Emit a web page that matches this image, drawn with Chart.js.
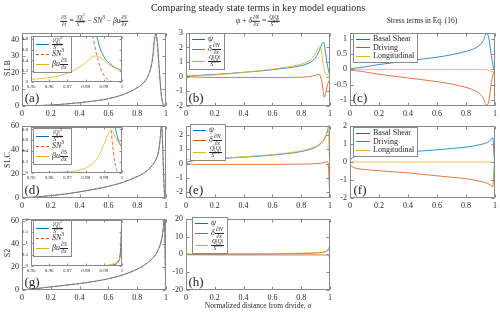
<!DOCTYPE html>
<html>
<head>
<meta charset="utf-8">
<script src="https://cdn.jsdelivr.net/npm/chart.js@4/dist/chart.umd.min.js"></script>
<style>
  body { margin: 0; background: #fff; }
  #fig { position: relative; width: 500px; height: 314px; overflow: hidden;
         font-family: "Liberation Serif", serif; color: #262626; }
  #fig canvas { position: absolute; }
  .txt { position: absolute; white-space: nowrap; line-height: 1; transform: translate(-50%, -50%); filter: grayscale(1); }
  .rot { transform: translate(-50%, -50%) rotate(-90deg); }
  .frac { display: inline-block; vertical-align: middle; text-align: center; font-size: 0.72em; line-height: 1.05; }
  .frac > span { display: block; padding: 0 1px; }
  .frac > span + span { border-top: 0.6px solid currentColor; }
  sup { font-size: 0.7em; vertical-align: super; line-height: 0; }
  .legend { position: absolute; background: #fff; border: 1px solid #8a8a8a; padding: 1px 3px 1px 2px;
            font-size: 8px; line-height: 1; color: #262626; }
  .legend > div { display: flex; align-items: center; min-height: 8px; }
  .legend .ln { display: inline-block; flex: none; width: 13px; height: 0; margin-right: 3px; }
  .legend .t { filter: grayscale(1); }
  .legend .frac { font-size: 0.74em; line-height: 0.95; }
  .legend.wide > div { min-height: 8.5px; }
  .legend.wide .ln { width: 14px; }
</style>
</head>
<body>
<div id="fig"></div>
<script>
"use strict";

const BLUE = "#0072BD", ORANGE = "#D95319", YELLOW = "#EDB120";

// ---- (a) S1.B channel terms ----
const aX   = [0, 0.1, 0.2, 0.3, 0.4, 0.5, 0.6, 0.7, 0.8, 0.85, 0.88, 0.9, 0.91, 0.92, 0.93, 0.94, 0.95, 0.96, 0.97, 0.98, 0.99, 1];
const aQ   = [0, 0.2, 0.6, 1.2, 2.0, 3.0, 4.4, 6.8, 11, 14.5, 19, 25, 31, 40, 43.5, 38, 26, 14, 5, 1.2, 0.46, 0.21];
const aSN  = [0, 0.2, 0.6, 1.2, 2.0, 3.0, 4.4, 6.8, 11, 14.5, 19, 25, 31, 40, 43.5, 37.5, 25.5, 13.5, 4.6, 0.9, 0.14, 0];
const aBu  = [0, 0, 0, 0, 0, 0.01, 0.01, 0.01, 0.02, 0.02, 0.02, 0.03, 0.03, 0.03, 0.04, 0.04, 0.05, 0.08, 0.16, 0.36, 0.42, 0.21];
// (a) inset
const aiX  = [0.95, 0.955, 0.96, 0.965, 0.97, 0.975, 0.98, 0.982, 0.984, 0.986, 0.988, 0.99, 0.992, 0.994, 0.996, 0.998, 1];
const aiQ  = [26, 20, 14, 9, 5, 2.8, 1.6, 1.3, 1.05, 0.86, 0.62, 0.47, 0.38, 0.32, 0.27, 0.24, 0.21];
const aiSN = [25.5, 19, 13.5, 8.5, 4.6, 2.4, 1.25, 1.0, 0.82, 0.52, 0.28, 0.13, 0.05, 0.015, 0.004, 0, 0];
const aiBu = [0.05, 0.06, 0.08, 0.11, 0.16, 0.24, 0.36, 0.42, 0.47, 0.48, 0.45, 0.4, 0.34, 0.3, 0.26, 0.23, 0.2];

// ---- (d) S1.C channel terms ----
const dX   = [0, 0.1, 0.2, 0.3, 0.4, 0.5, 0.6, 0.7, 0.8, 0.85, 0.9, 0.93, 0.95, 0.96, 0.965, 0.97, 0.975, 0.98, 0.985, 0.99, 0.995, 1];
const dQ   = [0, 0.9, 2, 3.3, 5.1, 7.2, 9.7, 13, 17.8, 21, 26.5, 32, 40, 50, 58, 60, 50, 32, 14, 3, 1, 0.47];
const dSN  = [0, 0.9, 2, 3.3, 5.1, 7.2, 9.7, 13, 17.8, 21, 26.5, 32, 40, 50, 58, 60, 50, 32, 14, 2.4, 0.45, 0];
const dBu  = [0, 0, 0, 0, 0, 0, 0, 0, 0, 0, 0, 0, 0, 0.01, 0.01, 0.02, 0.03, 0.09, 0.2, 0.52, 0.74, 0.47];
// (d) inset
const diX  = [0.95, 0.96, 0.97, 0.975, 0.98, 0.983, 0.986, 0.988, 0.99, 0.991, 0.992, 0.993, 0.994, 0.995, 0.996, 0.997, 0.998, 0.999, 1];
const diQ  = [40, 50, 60, 50, 32, 20, 12, 7, 3, 2.4, 1.9, 1.5, 1.2, 1.0, 0.86, 0.72, 0.6, 0.52, 0.47];
const diSN = [40, 50, 60, 50, 32, 20, 12, 7, 2.4, 1.9, 1.5, 1.1, 0.8, 0.45, 0.2, 0.06, 0.01, 0, 0];
const diBu = [0.005, 0.01, 0.02, 0.04, 0.09, 0.15, 0.25, 0.36, 0.52, 0.6, 0.68, 0.75, 0.78, 0.74, 0.68, 0.62, 0.56, 0.51, 0.47];

// ---- (g) S2 channel terms ----
const gX   = [0, 0.1, 0.2, 0.3, 0.4, 0.5, 0.6, 0.7, 0.8, 0.85, 0.9, 0.93, 0.95, 0.97, 0.98, 0.985, 0.99, 0.995, 1];
const gQ   = [0, 1.2, 2.7, 4.1, 5.6, 7.4, 9.7, 13, 18, 21.5, 26.5, 31, 36, 44, 52, 59, 61, 20, 0.5];
const gSN  = [0, 1.2, 2.7, 4.1, 5.6, 7.4, 9.7, 13, 18, 21.5, 26.5, 31, 36, 44, 52, 59, 61, 20, 0];
const gBu  = [0, 0, 0, 0, 0, 0, 0, 0, 0, 0, 0, 0, 0, 0, 0, 0, 0.02, 0.1, 0.7];
// (g) inset
const giX  = [0.95, 0.96, 0.97, 0.98, 0.985, 0.99, 0.992, 0.994, 0.996, 0.997, 0.998, 0.999, 1];
const giQ  = [0, 0, 0, 0, 0, 0.01, 0.02, 0.03, 0.06, 0.1, 0.2, 0.5, 2.2];
const giSN = [0, 0, 0, 0, 0, 0.01, 0.02, 0.03, 0.06, 0.1, 0.2, 0.5, 2.2];
const giBu = [0, 0, 0, 0.005, 0.01, 0.02, 0.04, 0.07, 0.12, 0.17, 0.25, 0.35, 0.55];

// ---- (b) S1.B flux balance ----
const bX     = [0, 0.05, 0.1, 0.2, 0.3, 0.4, 0.5, 0.6, 0.7, 0.8, 0.85, 0.88, 0.9, 0.92, 0.93, 0.94, 0.95, 0.955, 0.96, 0.97, 0.98, 0.99, 1];
const bPsi   = [0.02, 0.06, 0.1, 0.15, 0.22, 0.3, 0.38, 0.48, 0.6, 0.75, 0.92, 1.1, 1.3, 1.65, 1.9, 2.15, 2.33, 2.35, 2.2, 1.6, 0.9, 0.4, 0.08];
const bDelta = [0.05, -0.02, -0.04, -0.05, -0.05, -0.05, -0.05, -0.05, -0.05, -0.03, 0, 0.05, 0.1, 0.15, 0.1, -0.2, -0.8, -1.2, -1.4, -1.15, -0.65, -0.35, -0.2];
const bQQ    = [0.07, 0.05, 0.08, 0.12, 0.2, 0.3, 0.4, 0.52, 0.66, 0.86, 1.05, 1.3, 1.6, 2.0, 2.08, 1.7, 1.05, 0.75, 0.48, 0.2, 0.12, 0.1, 0.1];

// ---- (e) S1.C flux balance ----
const eX     = [0, 0.05, 0.1, 0.2, 0.3, 0.4, 0.5, 0.6, 0.7, 0.8, 0.85, 0.9, 0.93, 0.95, 0.97, 0.98, 0.985, 0.99, 0.995, 1];
const ePsi   = [0.1, 0.2, 0.25, 0.33, 0.4, 0.46, 0.52, 0.6, 0.7, 0.85, 0.97, 1.15, 1.35, 1.55, 1.9, 2.2, 2.4, 2.65, 2.8, 0.3];
const eDelta = [0.05, -0.05, -0.05, -0.05, -0.05, -0.05, -0.05, -0.05, -0.04, -0.03, -0.02, 0, 0.03, 0.06, 0.12, 0.15, 0.1, -0.3, -1.5, -2.5];
const eQQ    = [0.3, 0.25, 0.28, 0.35, 0.42, 0.48, 0.55, 0.63, 0.74, 0.9, 1.02, 1.2, 1.4, 1.6, 1.95, 2.2, 2.35, 2.3, 0.6, -0.1];

// ---- (h) S2 flux balance ----
const hX     = [0, 0.2, 0.4, 0.6, 0.8, 0.9, 0.95, 0.97, 0.98, 0.99, 0.995, 1];
const hPsi   = [0, 0.1, 0.2, 0.3, 0.5, 0.8, 1.2, 1.7, 2.2, 3, 4, 6];
const hDelta = [-0.2, -0.3, -0.3, -0.3, -0.3, -0.3, -0.3, -0.35, -0.4, -0.6, -1.5, -8];
const hQQ    = [0.3, 0.35, 0.4, 0.5, 0.7, 0.9, 1.2, 1.5, 1.8, 2.2, 2.5, 1.5];

// ---- (c) S1.B stress terms ----
const cX       = [0, 0.1, 0.2, 0.3, 0.4, 0.5, 0.6, 0.7, 0.8, 0.85, 0.9, 0.92, 0.94, 0.95, 0.96, 0.97, 0.98, 0.99, 1];
const cBasal   = [0.02, 0.08, 0.16, 0.22, 0.28, 0.34, 0.4, 0.48, 0.59, 0.67, 0.82, 0.95, 1.17, 1.15, 0.95, 0.6, 0.3, 0.05, -0.05];
const cDriving = [-0.02, -0.08, -0.16, -0.22, -0.28, -0.34, -0.4, -0.48, -0.59, -0.67, -0.82, -0.95, -1.17, -1.15, -0.95, -0.6, -0.3, -0.1, -0.05];
const cLong    = [0, 0, 0, 0, 0, 0, 0, 0, 0, 0, 0, -0.005, -0.01, -0.02, -0.03, -0.05, -0.06, -0.07, -0.07];

// ---- (f) S1.C stress terms ----
const fX       = [0, 0.01, 0.03, 0.05, 0.1, 0.2, 0.3, 0.4, 0.5, 0.6, 0.7, 0.8, 0.9, 0.95, 0.98, 0.985, 0.99, 0.995, 1];
const fBasal   = [0.05, 0.18, 0.28, 0.33, 0.38, 0.44, 0.5, 0.56, 0.61, 0.67, 0.74, 0.82, 0.96, 1.1, 1.3, 1.35, 0.8, 0.2, 0];
const fDriving = [-0.1, -0.22, -0.32, -0.37, -0.42, -0.49, -0.55, -0.61, -0.69, -0.77, -0.85, -0.93, -1.08, -1.2, -1.35, -1.38, -0.8, -0.2, -0.05];
const fLong    = [0, 0, 0, 0, 0, 0, 0, 0, 0, 0, 0, 0, 0, 0, 0, -0.02, -0.05, -0.08, -0.1];

// legend labels (HTML, math set in italics)
const frac = (n, d) => `<span class="frac"><span>${n}</span><span>${d}</span></span>`;
const LBL_Q   = frac("|<i>Q</i>|<sup>3</sup>", "<i>S</i><sup>8/3</sup>");
const LBL_SN  = "<i>SN</i><sup>3</sup>";
const LBL_BU  = "<i>βu</i>" + frac("∂<i>S</i>", "∂<i>x</i>");
const LBL_PSI = "<i>ψ</i>";
const LBL_DN  = "<i>δ</i>" + frac("∂<i>N</i>", "∂<i>x</i>");
const LBL_QQ  = frac("<i>Q</i>|<i>Q</i>|", "<i>S</i><sup>8/3</sup>");
const STRESS  = ["Basal Shear", "Driving", "Longitudinal"];

// ---------------------------------------------------------------
Chart.defaults.font.family = "'Liberation Serif', serif";
Chart.defaults.color = "#262626";

// box round the axes + inward ticks on all four sides (MATLAB look)
const frame = {
  id: "frame",
  beforeDraw(chart, args, opts) {
    if (!opts.fill) return;
    const a = chart.chartArea;
    chart.ctx.fillStyle = "#fff";
    chart.ctx.fillRect(a.left, a.top, a.right - a.left, a.bottom - a.top);
  },
  afterDraw(chart, args, opts) {
    const { ctx, chartArea: a, scales } = chart;
    const L = opts.tick || 3;
    const l = Math.round(a.left) + 0.5, r = Math.round(a.right) - 0.5;
    const t = Math.round(a.top) + 0.5, b = Math.round(a.bottom) - 0.5;
    ctx.save();
    ctx.strokeStyle = "#8a8a8a";
    ctx.lineWidth = 1;
    ctx.strokeRect(l, t, r - l, b - t);
    ctx.beginPath();
    scales.x.ticks.forEach((tk, i) => {
      const px = Math.round(scales.x.getPixelForTick(i)) + 0.5;
      ctx.moveTo(px, b); ctx.lineTo(px, b - L);
      ctx.moveTo(px, t); ctx.lineTo(px, t + L);
    });
    scales.y.ticks.forEach((tk, i) => {
      const py = Math.round(scales.y.getPixelForTick(i)) + 0.5;
      ctx.moveTo(l, py); ctx.lineTo(l + L, py);
      ctx.moveTo(r, py); ctx.lineTo(r - L, py);
    });
    ctx.stroke();
    ctx.restore();
  },
};
Chart.register(frame);

const fig = document.getElementById("fig");
const fmt = (v) => String(Math.round(v * 1000) / 1000);

// later series drawn on top, as in the original plotting order
function series(label, xs, ys, color, idx, dashed) {
  return {
    label,
    data: xs.map((x, i) => ({ x, y: ys[i] })),
    order: -idx,
    borderColor: color,
    borderWidth: 0.8,
    borderDash: dashed ? [3.5, 2] : [],
    pointRadius: 0,
    cubicInterpolationMode: "monotone",
    fill: false,
  };
}
const trio = (labels, xs, ys, dashMid) => [
  series(labels[0], xs, ys[0], BLUE, 0),
  series(labels[1], xs, ys[1], ORANGE, 1, dashMid),
  series(labels[2], xs, ys[2], YELLOW, 2),
];

function axis(lim, pad, which) {
  return {
    type: "linear",
    min: lim[0], max: lim[1],
    grid: { display: false, drawTicks: false },
    border: { display: false },
    ticks: {
      stepSize: lim[2], autoSkip: false, includeBounds: false, maxRotation: 0,
      padding: which === "x" ? pad.lp : 3,
      font: { size: pad.font },
      callback: fmt,
    },
    afterFit: (s) => { if (which === "x") s.height = pad.xh; else s.width = pad.yw; },
  };
}

const MAIN  = { yw: 24, xh: 12, t: 5, r: 6, font: 8, lp: 3, tick: 3 };
const INSET = { yw: 10, xh: 8, t: 3, r: 4, font: 5, lp: 2, tick: 2 };

function panel(area, pad, datasets, xl, yl, fill) {
  const c = document.createElement("canvas");
  c.width = area.w + pad.yw + pad.r;
  c.height = area.h + pad.t + pad.xh;
  c.style.left = (area.x - pad.yw) + "px";
  c.style.top = (area.y - pad.t) + "px";
  fig.appendChild(c);
  return new Chart(c, {
    type: "line",
    data: { datasets },
    options: {
      responsive: false, animation: false, events: [],
      layout: { padding: { top: pad.t, right: pad.r, left: 0, bottom: 0 } },
      plugins: { legend: { display: false }, tooltip: { enabled: false }, frame: { tick: pad.tick, fill } },
      scales: { x: axis(xl, pad, "x"), y: axis(yl, pad, "y") },
    },
  });
}

function legend(chart, left, top, cls) {
  const d = document.createElement("div");
  d.className = "legend" + (cls ? " " + cls : "");
  d.style.left = left + "px";
  d.style.top = top + "px";
  d.innerHTML = chart.data.datasets.map((ds) =>
    `<div><span class="ln" style="border-top:1px ${ds.borderDash.length ? "dashed" : "solid"} ${ds.borderColor}"></span><span class="t">${ds.label}</span></div>`
  ).join("");
  fig.appendChild(d);
}

function text(html, cx, cy, size, cls) {
  const d = document.createElement("div");
  d.className = "txt" + (cls ? " " + cls : "");
  d.style.left = cx + "px";
  d.style.top = cy + "px";
  d.style.fontSize = size + "px";
  d.innerHTML = html;
  fig.appendChild(d);
}

const X01 = [0, 1, 0.2];
const XIN = [0.95, 1, 0.01];
const COL = [22, 186, 350], W = 144;
const ROW = [{ y: 30, h: 76 }, { y: 123, h: 75 }, { y: 216, h: 74 }];
const at = (c, r) => ({ x: COL[c], y: ROW[r].y, w: c === 2 ? 145 : W, h: ROW[r].h });

const CH = [LBL_Q, LBL_SN, LBL_BU];
const FX = [LBL_PSI, LBL_DN, LBL_QQ];

// main panels
panel(at(0, 0), MAIN, trio(CH, aX, [aQ, aSN, aBu], true), X01, [0, 44, 10]);
panel(at(0, 1), MAIN, trio(CH, dX, [dQ, dSN, dBu], true), X01, [0, 60, 20]);
panel(at(0, 2), MAIN, trio(CH, gX, [gQ, gSN, gBu], true), X01, [0, 61.5, 20]);

const pb = panel(at(1, 0), MAIN, trio(FX, bX, [bPsi, bDelta, bQQ]), X01, [-2, 3, 1]);
const pe = panel(at(1, 1), MAIN, trio(FX, eX, [ePsi, eDelta, eQQ]), X01, [-2.4, 2.65, 1]);
const ph = panel(at(1, 2), MAIN, trio(FX, hX, [hPsi, hDelta, hQQ]), X01, [-20, 20, 10]);

const pc = panel(at(2, 0), MAIN, trio(STRESS, cX, [cBasal, cDriving, cLong]), X01, [-1.2, 1.2, 0.5]);
const pf = panel(at(2, 1), MAIN, trio(STRESS, fX, [fBasal, fDriving, fLong]), X01, [-2, 2, 1]);

legend(pb, 189, 33);
legend(pe, 190, 124);
legend(ph, 192, 217);
legend(pc, 353, 33, "wide");
legend(pf, 353, 127, "wide");

// insets
const ia = panel({ x: 31, y: 33, w: 91, h: 49 }, INSET, trio(CH, aiX, [aiQ, aiSN, aiBu], true), XIN, [0, 0.85, 0.2], true);
const id = panel({ x: 31, y: 124, w: 91, h: 49 }, INSET, trio(CH, diX, [diQ, diSN, diBu], true), XIN, [0, 0.84, 0.2], true);
const ig = panel({ x: 31, y: 217, w: 91, h: 49 }, INSET, trio(CH, giX, [giQ, giSN, giBu], true), XIN, [0, 2, 0.5], true);

legend(ia, 33, 36);
legend(id, 33, 128);
legend(ig, 33, 220);

// titles and labels
text("Comparing steady state terms in key model equations", 258, 8, 10);
text(frac("∂<i>S</i>", "∂<i>t</i>") + " = " + LBL_Q + " − " + LBL_SN + " − " + LBL_BU, 94, 21, 7.5);
text(LBL_PSI + " + " + LBL_DN + " = " + LBL_QQ, 258, 21, 7.5);
text("Stress terms in Eq. (16)", 422, 21, 7.5);
text("Normalized distance from divide, <i>σ</i>", 258, 306, 7.5);
text("S1.B", 8, 68, 8, "rot");
text("S1.C", 8, 160, 8, "rot");
text("S2", 8, 253, 8, "rot");

const letters = [["(a)", 0, 0], ["(b)", 1, 0], ["(c)", 2, 0], ["(d)", 0, 1], ["(e)", 1, 1], ["(f)", 2, 1], ["(g)", 0, 2], ["(h)", 1, 2]];
letters.forEach(([s, c, r]) => text(s, COL[c] + 10, ROW[r].y + ROW[r].h - 9, 13));
</script>
</body>
</html>
